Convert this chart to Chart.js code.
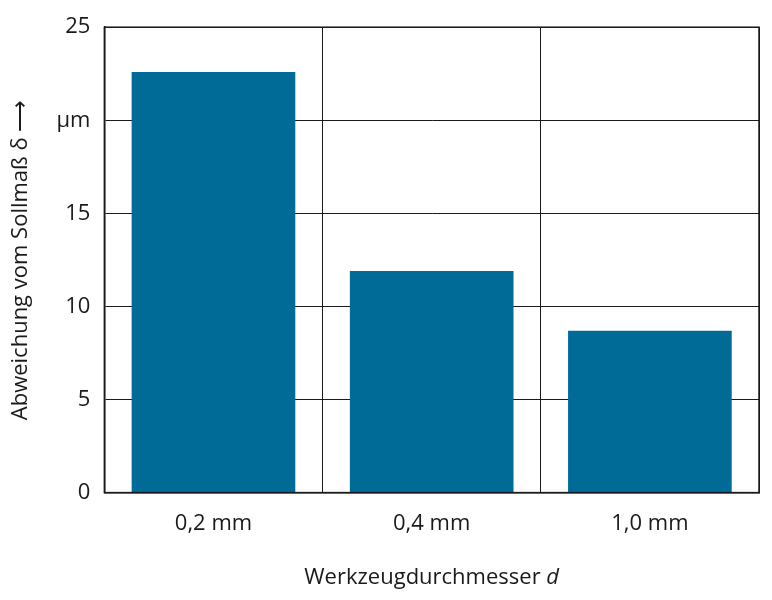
<!DOCTYPE html>
<html>
<head>
<meta charset="utf-8">
<script src="https://cdn.jsdelivr.net/npm/chart.js@4"></script>
<style>
  body { margin: 0; background: #fff; }
  #wrap { width: 772px; height: 600px; }
</style>
</head>
<body>
<div id="wrap"><canvas id="grafico"></canvas></div>
<script>
const categorias = ['0,2 mm', '0,4 mm', '1,0 mm'];
const abweichung = [22.6, 11.9, 8.7];
const etiquetasY = { 0: '0', 5: '5', 10: '10', 15: '15', 20: 'µm', 25: '25' };

const fuente = '"Open Sans", "Noto Sans", sans-serif';

// Titulo del eje x con la "d" en cursiva
const tituloX = {
    id: 'tituloX',
    afterDraw(chart) {
        const ctx = chart.ctx;
        const area = chart.chartArea;
        const cx = (area.left + area.right) / 2;
        const y = 578;
        ctx.save();
        ctx.fillStyle = '#1a1a1a';
        ctx.textBaseline = 'middle';
        ctx.font = '22px ' + fuente;
        const t1 = 'Werkzeugdurchmesser ';
        const w1 = ctx.measureText(t1).width;
        ctx.font = 'italic 22px ' + fuente;
        const w2 = ctx.measureText('d').width;
        let x = cx - (w1 + w2) / 2;
        ctx.font = '22px ' + fuente;
        ctx.textAlign = 'left';
        ctx.fillText(t1, x, y);
        ctx.font = 'italic 22px ' + fuente;
        ctx.fillText('d', x + w1, y);
        ctx.restore();
    }
};

new Chart(document.getElementById('grafico'), {
    type: 'bar',
    data: {
        labels: categorias,
        datasets: [{
            data: abweichung,
            backgroundColor: '#006b96',
            categoryPercentage: 0.75,
            barPercentage: 1
        }]
    },
    options: {
        responsive: true,
        maintainAspectRatio: false,
        animation: false,
        layout: { padding: { top: 16, right: 13, bottom: 45, left: 4 } },
        plugins: { legend: { display: false }, tooltip: { enabled: false } },
        scales: {
            x: {
                grid: { color: '#1a1a1a', lineWidth: 1, offset: true, drawTicks: false },
                border: { color: '#1a1a1a', width: 1.5 },
                ticks: { color: '#1a1a1a', font: { size: 22, family: fuente }, padding: 18 }
            },
            y: {
                min: 0,
                max: 25,
                grid: { color: '#1a1a1a', lineWidth: 1, drawTicks: false },
                border: { color: '#1a1a1a', width: 1.5 },
                ticks: {
                    stepSize: 5,
                    color: '#1a1a1a',
                    font: { size: 22, family: fuente },
                    padding: 14,
                    callback: v => etiquetasY[v]
                },
                title: {
                    display: true,
                    text: 'Abweichung vom Sollmaß δ ⟶',
                    color: '#1a1a1a',
                    font: { size: 22, family: fuente },
                    padding: { bottom: 8 }
                }
            }
        }
    },
    plugins: [tituloX, {
        id: 'marco',
        afterDraw(chart) {
            const { ctx, chartArea: a } = chart;
            ctx.save();
            ctx.strokeStyle = '#1a1a1a';
            ctx.lineWidth = 1.5;
            ctx.strokeRect(a.left, a.top, a.right - a.left, a.bottom - a.top);
            ctx.restore();
        }
    }]
});
</script>
</body>
</html>
